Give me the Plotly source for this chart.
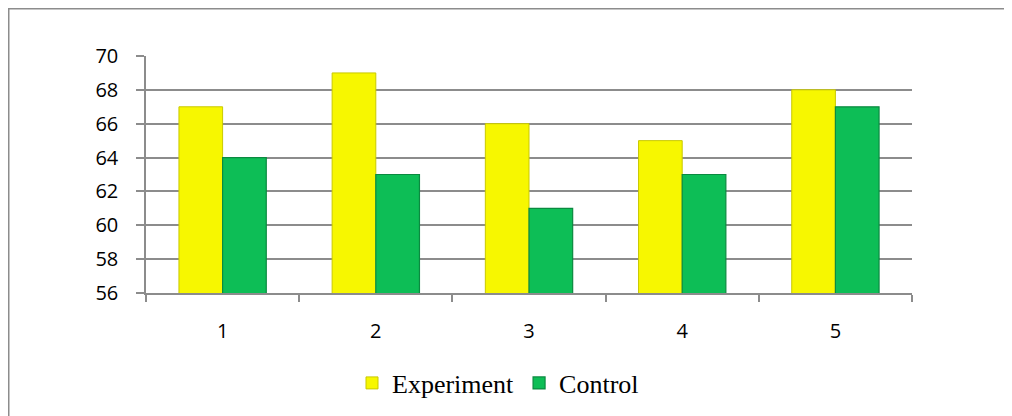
import plotly.graph_objects as go

categories = ["1", "2", "3", "4", "5"]
experiment = [67, 69, 66, 65, 68]
control = [64, 63, 61, 63, 67]
y_ticks = [56, 58, 60, 62, 64, 66, 68, 70]

fig = go.Figure()
fig.add_trace(go.Bar(
    x=categories, y=experiment, name="Experiment",
    marker=dict(color="#F7F700", line=dict(color="#C9C900", width=1)),
))
fig.add_trace(go.Bar(
    x=categories, y=control, name="Control",
    marker=dict(color="#0DBE56", line=dict(color="#0B8A40", width=1.2)),
))

# page body has an 8px margin, so the figure starts at (8, 8)
W, H = 1004, 408
L, R, T, B = 138, 100, 48, 123
pw, ph = W - L - R, H - T - B

grid = "#8C8C8C"
fig.update_layout(
    width=W, height=H,
    margin=dict(l=L, r=R, t=T, b=B, autoexpand=False),
    paper_bgcolor="white", plot_bgcolor="white",
    barmode="group", bargap=0.43, bargroupgap=0,
    showlegend=True,
    legend=dict(
        orientation="h", x=(490 - L) / pw, y=-(383 - 8 - (H - B)) / ph,
        xanchor="center", yanchor="middle",
        font=dict(family="Liberation Serif", size=26, color="black"),
        itemwidth=30, traceorder="normal",
    ),
    xaxis=dict(
        type="category", showgrid=False, showline=True, linecolor=grid, linewidth=1.5,
        ticks="outside", tickson="boundaries", ticklen=7, tickcolor=grid, tickwidth=1.5,
        tickfont=dict(family="Open Sans", size=20, color="black"),
        ticklabelstandoff=19,
    ),
    yaxis=dict(
        range=[56, 70], tickvals=y_ticks, showgrid=True, gridcolor=grid, gridwidth=1.5,
        showline=True, linecolor=grid, linewidth=1.5,
        ticks="outside", ticklen=8, tickcolor=grid, tickwidth=1.5,
        tickfont=dict(family="Open Sans", size=20, color="black"),
        ticklabelstandoff=14, zeroline=False,
    ),
    shapes=[
        dict(type="rect", xref="paper", yref="paper",
             x0=(0.5 - L) / pw, x1=1.5, y0=-1.0, y1=(H - B - 0.5) / ph,
             line=dict(color="#8C8C8C", width=2), fillcolor="rgba(0,0,0,0)", layer="below"),
    ],
)

fig.write_html("out.html")
